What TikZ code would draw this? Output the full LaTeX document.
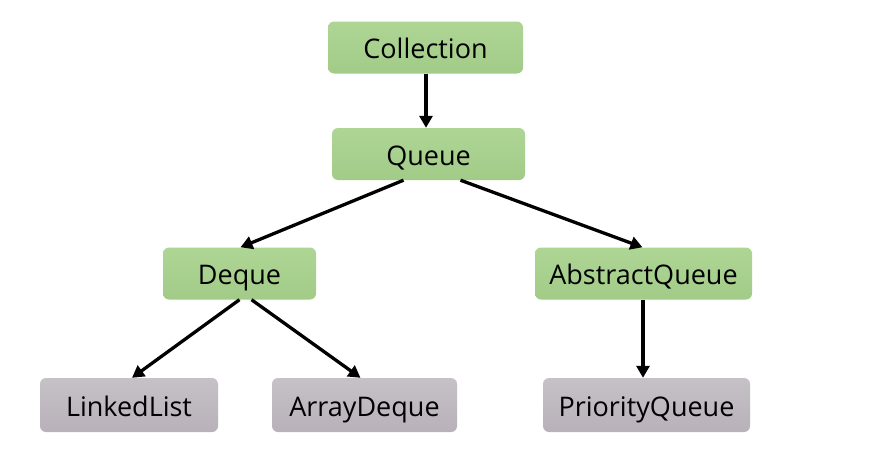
\documentclass[tikz,border=0pt]{standalone}
\usepackage{fontspec}
\setmainfont{Open Sans}
\usetikzlibrary{arrows.meta}
\definecolor{boxgreenT}{RGB}{174,213,148}
\definecolor{boxgreenB}{RGB}{162,203,136}
\definecolor{boxgrayT}{RGB}{198,192,199}
\definecolor{boxgrayB}{RGB}{184,177,185}
\tikzset{
  base/.style={rounded corners=6pt, minimum height=52pt, inner sep=0pt,
    text height=22pt, text depth=0pt,
    font=\fontsize{27}{30}\selectfont, text=black},
  green/.style={base, top color=boxgreenT, bottom color=boxgreenB},
  gray/.style={base, top color=boxgrayT, bottom color=boxgrayB},
  conn/.style={line width=3.3pt, -{Triangle[length=12pt,width=13pt]}}
}
\begin{document}
\begin{tikzpicture}[x=1pt,y=-1pt]
\useasboundingbox[fill=white] (0,0) rectangle (894,471);
\node[green, minimum width=195pt] (coll) at (425.5,47.5) {Collection};
\node[green, minimum width=193pt] (queue) at (428.5,154) {Queue};
\node[green, minimum width=153pt] (deque) at (239.5,273.5) {Deque};
\node[green, minimum width=217pt] (aq) at (643.5,273.5) {AbstractQueue};
\node[gray, minimum width=178pt, minimum height=54pt] (ll) at (129,405) {LinkedList};
\node[gray, minimum width=185pt, minimum height=54pt] (ad) at (364.5,405) {ArrayDeque};
\node[gray, minimum width=207pt, minimum height=54pt] (pq) at (646.5,405) {PriorityQueue};
\draw[conn] ([xshift=0.5pt]coll.south) -- ([xshift=0.5pt]coll.south |- queue.north);
\draw[conn] ([xshift=-25pt]queue.south) -- ([xshift=1pt]deque.north);
\draw[conn] ([xshift=32pt]queue.south) -- ([xshift=-1pt]aq.north);
\draw[conn] ([xshift=0pt]deque.south) -- ([xshift=3pt]ll.north);
\draw[conn] ([xshift=12pt]deque.south) -- ([xshift=-4pt]ad.north);
\draw[conn] ([xshift=-0.5pt]aq.south) -- ([xshift=-0.5pt]aq.south |- pq.north);
\end{tikzpicture}
\end{document}
